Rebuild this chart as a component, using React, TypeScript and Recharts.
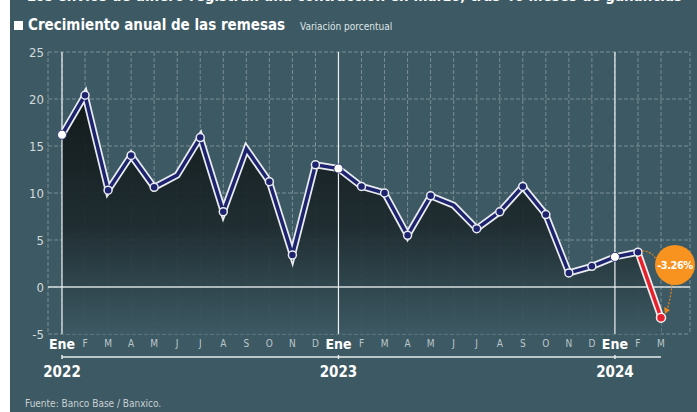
import {
  ComposedChart,
  Area,
  Line,
  XAxis,
  YAxis,
  CartesianGrid,
  ReferenceLine,
  ReferenceDot,
} from "recharts";

const years = [2022, 2023, 2024];
const monthLetters = ["Ene", "F", "M", "A", "M", "J", "J", "A", "S", "O", "N", "D"];
// crecimiento anual de las remesas, % (ene 2022 - mar 2024)
const growth = [
  16.2, 20.4, 10.3, 14.0, 10.6, 11.9, 15.9, 8.0, 14.7, 11.2, 3.4, 13.0,
  12.6, 10.7, 10.0, 5.5, 9.7, 8.7, 6.2, 8.0, 10.7, 7.7, 1.5, 2.2,
  3.2, 3.7, -3.26,
];
// months drawn without a marker
const unmarked = [5, 8, 17];
const yTicks = [-5, 0, 5, 10, 15, 20, 25];
const dropLabel = "-3.26%";
const bubbleAt = 2.35;
const yearRuleAt = -7.45;

const FONT = "'Liberation Sans Narrow', 'DejaVu Sans Condensed', 'Roboto Condensed', Roboto, sans-serif";
const BG = "#3d5963";
const NAVY = "#1e236e";
const RED = "#e8202b";
const ORANGE = "#f7931e";

const periodOf = (i: number) =>
  `${years[Math.floor(i / 12)]}-${String((i % 12) + 1).padStart(2, "0")}`;

const data = growth.map((v, i) => ({
  period: periodOf(i),
  value: v,
  trend: i <= growth.length - 2 ? v : null,
  drop: i >= growth.length - 2 ? v : null,
}));

const MonthTick = (props: any) => {
  const { x, y, payload } = props;
  const m = Number(String(payload.value).slice(5)) - 1;
  const year = String(payload.value).slice(0, 4);
  if (m === 0) {
    return (
      <g fontFamily={FONT}>
        <text x={x} y={y + 15} textAnchor="middle" fill="#ffffff" fontSize={14} fontWeight={700}>
          {monthLetters[m]}
        </text>
        <line x1={x} x2={x} y1={y + 21} y2={y + 25} stroke="#e6ebec" strokeWidth={1.5} />
        <text x={x} y={y + 43} textAnchor="middle" fill="#ffffff" fontSize={15} fontWeight={700}>
          {year}
        </text>
      </g>
    );
  }
  return (
    <text x={x} y={y + 13} textAnchor="middle" fill="#bcc7cb" fontSize={10} fontFamily={FONT}>
      {monthLetters[m]}
    </text>
  );
};

const TrendDot = (props: any) => {
  const { cx, cy, index } = props;
  if (cx == null || cy == null || unmarked.includes(index)) return <g key={index} />;
  if (index % 12 === 0) {
    return <circle key={index} cx={cx} cy={cy} r={4.5} fill="#ffffff" stroke={NAVY} strokeWidth={0.8} />;
  }
  return <circle key={index} cx={cx} cy={cy} r={4} fill={NAVY} stroke="#e8ecee" strokeWidth={1.5} />;
};

const DropDot = (props: any) => {
  const { cx, cy, index } = props;
  if (cx == null || cy == null || index !== growth.length - 1) return <g key={index} />;
  return <circle key={index} cx={cx} cy={cy} r={4.5} fill={RED} stroke="#f3f3f3" strokeWidth={1.5} />;
};

const Bubble = (props: any) => {
  const { cx, cy } = props;
  const bx = cx + 14;
  return (
    <g>
      <path
        d={`M ${cx - 19} ${cy - 14} Q ${cx - 10} ${cy - 14} ${bx - 19} ${cy - 6}`}
        fill="none"
        stroke="#e8871e"
        strokeWidth={1.2}
        strokeDasharray="2 1.5"
      />
      <path
        d={`M ${bx - 3} ${cy + 20} Q ${bx - 5} ${cy + 38} ${cx + 5} ${cy + 47}`}
        fill="none"
        stroke="#e8871e"
        strokeWidth={1.2}
        strokeDasharray="2 1.5"
      />
      <path d={`M ${cx + 3} ${cy + 42} L ${cx + 4} ${cy + 49} L ${cx + 9} ${cy + 45} Z`} fill="#e8871e" />
      <circle cx={bx} cy={cy} r={20} fill={ORANGE} />
      <text
        x={bx}
        y={cy + 4}
        textAnchor="middle"
        fill="#ffffff"
        fontSize={11}
        fontWeight={700}
        letterSpacing={-0.5}
        fontFamily={FONT}
      >
        {dropLabel}
      </text>
    </g>
  );
};

export default function App() {
  return (
    <div
      style={{
        position: "absolute",
        left: 0,
        top: 0,
        width: 697,
        height: 412,
        background: "#ffffff",
        overflow: "hidden",
        fontFamily: FONT,
      }}
    >
      <div style={{ position: "absolute", left: 10, top: 0, width: 687, height: 412, background: BG }} />
      <div
        style={{
          position: "absolute",
          left: 27,
          top: -11,
          fontSize: 15,
          lineHeight: "15px",
          fontWeight: 700,
          color: "#ffffff",
          whiteSpace: "nowrap",
        }}
      >
        Los envíos de dinero registran una contracción en marzo, tras 46 meses de ganancias
      </div>
      <div style={{ position: "absolute", left: 14, top: 21, width: 9, height: 9, background: "#ffffff" }} />
      <div
        style={{
          position: "absolute",
          left: 28,
          top: 16,
          fontSize: 15,
          lineHeight: "18px",
          fontWeight: 700,
          color: "#ffffff",
          whiteSpace: "nowrap",
        }}
      >
        Crecimiento anual de las remesas
      </div>
      <div
        style={{
          position: "absolute",
          left: 300,
          top: 21,
          fontSize: 10,
          lineHeight: "12px",
          color: "#dfe5e7",
          whiteSpace: "nowrap",
        }}
      >
        Variación porcentual
      </div>
      <div
        style={{
          position: "absolute",
          left: 25,
          top: 398,
          fontSize: 10,
          lineHeight: "12px",
          color: "#c9d2d5",
          whiteSpace: "nowrap",
        }}
      >
        Fuente: Banco Base / Banxico.
      </div>
      <div style={{ position: "absolute", left: 10, top: 0 }}>
        <ComposedChart
          width={687}
          height={412}
          data={data}
          margin={{ top: 52, right: 7, bottom: 58, left: 0 }}
        >
          <defs>
            <linearGradient id="areaFill" x1="0" y1="0" x2="0" y2="1">
              <stop offset="0%" stopColor="#0f1414" stopOpacity={1} />
              <stop offset="55%" stopColor="#1d2a2e" stopOpacity={1} />
              <stop offset="100%" stopColor={BG} stopOpacity={1} />
            </linearGradient>
          </defs>
          <Area
            dataKey="value"
            type="linear"
            baseValue="dataMin"
            fill="url(#areaFill)"
            fillOpacity={0.92}
            stroke="none"
            dot={false}
            activeDot={false}
            isAnimationActive={false}
          />
          <CartesianGrid stroke="#a3b0b4" strokeOpacity={0.6} strokeDasharray="4 2" />
          <XAxis
            dataKey="period"
            height={20}
            padding={{ left: 14, right: 29 }}
            axisLine={false}
            tickLine={false}
            tickSize={0}
            tickMargin={0}
            interval={0}
            tick={<MonthTick />}
          />
          <YAxis
            width={38}
            domain={[-5, 25]}
            allowDataOverflow
            ticks={yTicks}
            axisLine={false}
            tickLine={false}
            tickSize={0}
            tickMargin={4}
            tick={{ fill: "#d3dadc", fontSize: 13, fontFamily: FONT }}
          />
          <ReferenceLine y={0} stroke="#d5dcde" strokeWidth={1.5} />
          {years.map((y) => (
            <ReferenceLine key={y} x={`${y}-01`} stroke="#eef2f3" strokeWidth={1.2} />
          ))}
          <ReferenceLine
            segment={[
              { x: data[0].period, y: yearRuleAt },
              { x: data[data.length - 1].period, y: yearRuleAt },
            ]}
            ifOverflow="visible"
            stroke="#e6ebec"
            strokeWidth={1.5}
          />
          <Line
            dataKey="trend"
            type="linear"
            stroke="#e8ecee"
            strokeWidth={7}
            dot={false}
            activeDot={false}
            connectNulls={false}
            isAnimationActive={false}
          />
          <Line
            dataKey="drop"
            type="linear"
            stroke="#f0f0f0"
            strokeWidth={7}
            dot={false}
            activeDot={false}
            isAnimationActive={false}
          />
          <Line
            dataKey="trend"
            type="linear"
            stroke={NAVY}
            strokeWidth={3.5}
            dot={<TrendDot />}
            activeDot={false}
            isAnimationActive={false}
          />
          <Line
            dataKey="drop"
            type="linear"
            stroke={RED}
            strokeWidth={3.5}
            dot={<DropDot />}
            activeDot={false}
            isAnimationActive={false}
          />
          <ReferenceDot
            x={data[data.length - 1].period}
            y={bubbleAt}
            ifOverflow="visible"
            shape={<Bubble />}
          />
        </ComposedChart>
      </div>
    </div>
  );
}
